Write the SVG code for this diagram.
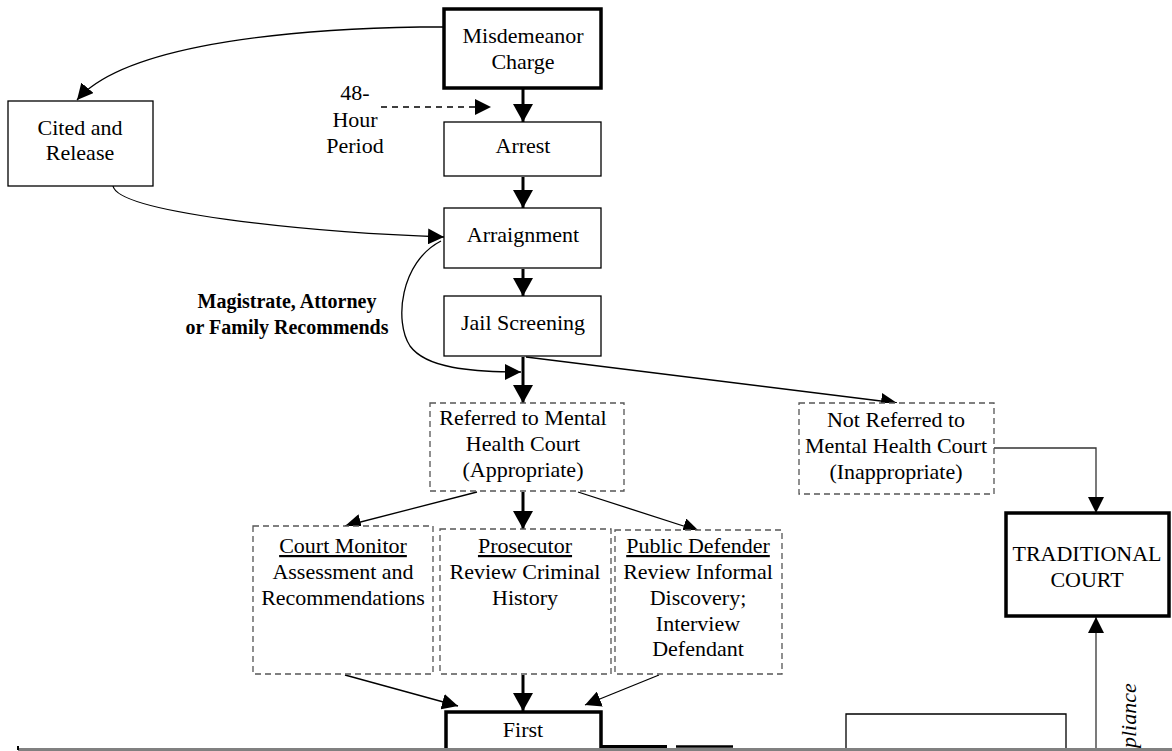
<svg xmlns="http://www.w3.org/2000/svg" width="1172" height="751" viewBox="0 0 1172 751">
<style>
  text { font-family: "Liberation Serif", "Times New Roman", serif; font-size: 22px; fill: #000; text-anchor: middle; }
  .bold { font-weight: bold; font-size: 20px; }
  .ital { font-style: italic; text-anchor: start; }
  .u { text-decoration: underline; }
  .thick { fill: #fff; stroke: #000; stroke-width: 3.5; }
  .thin { fill: #fff; stroke: #000; stroke-width: 1.3; }
  .dash { fill: #fff; stroke: #555; stroke-width: 1.3; stroke-dasharray: 6 4; }
  .c1 { fill: none; stroke: #000; stroke-width: 1.3; }
  .c3 { fill: none; stroke: #000; stroke-width: 3; }
  .cd { fill: none; stroke: #000; stroke-width: 1.3; stroke-dasharray: 6 5; }
  .cg { fill: none; stroke: #333; stroke-width: 1.3; }
</style>
<defs>
  <marker id="big" markerUnits="userSpaceOnUse" markerWidth="19" markerHeight="20" refX="18" refY="10" orient="auto">
    <path d="M0,0 L18,10 L0,20 z" fill="#000"/>
  </marker>
  <marker id="sm" markerUnits="userSpaceOnUse" markerWidth="17" markerHeight="16" refX="16" refY="8" orient="auto">
    <path d="M0,0 L16,8 L0,16 z" fill="#000"/>
  </marker>
</defs>
<rect x="0" y="0" width="1172" height="751" fill="#fff"/>

<g id="connectors">
  <path class="c1" d="M444,27 L420,27 C250,30 118,52 77,100" marker-end="url(#sm)"/>
  <path class="cd" d="M381,107 L491,107" marker-end="url(#sm)"/>
  <path class="c3" d="M523,89 L523,122" marker-end="url(#big)"/>
  <path class="c3" d="M523,177 L523,208" marker-end="url(#big)"/>
  <path class="c1" d="M113,186 C118,212 300,232 444,237" marker-end="url(#sm)"/>
  <path class="c3" d="M523,269 L523,296" marker-end="url(#big)"/>
  <path class="c1" d="M441,241 C400,262 394,322 410,346 C426,368 470,372 521,372" marker-end="url(#sm)"/>
  <path class="c3" d="M523,357 L523,403" marker-end="url(#big)"/>
  <path class="c1" d="M526,357 L897,403" marker-end="url(#sm)"/>
  <path class="cg" d="M994,448 L1096,448 L1096,513" marker-end="url(#sm)"/>
  <path class="c1" d="M477,492 L345,526" marker-end="url(#sm)"/>
  <path class="c3" d="M523,492 L523,529" marker-end="url(#big)"/>
  <path class="c1" d="M578,492 L699,531" marker-end="url(#sm)"/>
  <path class="c1" d="M345,675 L458,706" marker-end="url(#sm)"/>
  <path class="c3" d="M523,675 L523,711" marker-end="url(#big)"/>
  <path class="c1" d="M659,675 L585,705" marker-end="url(#sm)"/>
  <path class="cg" d="M1096,748 L1096,617" marker-end="url(#sm)"/>
</g>

<g id="misdemeanor">
  <rect class="thick" x="444" y="9" width="157" height="79"/>
  <text x="523" y="43">Misdemeanor</text>
  <text x="523" y="69">Charge</text>
</g>
<g id="cited">
  <rect class="thin" x="8" y="101" width="145" height="85"/>
  <text x="80" y="135">Cited and</text>
  <text x="80" y="160">Release</text>
</g>
<g id="period">
  <text x="355" y="100">48-</text>
  <text x="355" y="127">Hour</text>
  <text x="355" y="153">Period</text>
</g>
<g id="arrest">
  <rect class="thin" x="444" y="122" width="157" height="54"/>
  <text x="523" y="153">Arrest</text>
</g>
<g id="arraignment">
  <rect class="thin" x="444" y="208" width="157" height="60"/>
  <text x="523" y="242">Arraignment</text>
</g>
<g id="magistrate">
  <text class="bold" x="287" y="308">Magistrate, Attorney</text>
  <text class="bold" x="287" y="334">or Family Recommends</text>
</g>
<g id="jail">
  <rect class="thin" x="444" y="296" width="157" height="60"/>
  <text x="523" y="330">Jail Screening</text>
</g>
<g id="referred">
  <rect class="dash" x="430" y="403" width="194" height="88"/>
  <text x="523" y="425">Referred to Mental</text>
  <text x="523" y="451">Health Court</text>
  <text x="523" y="477">(Appropriate)</text>
</g>
<g id="notreferred">
  <rect class="dash" x="799" y="403" width="195" height="91"/>
  <text x="896" y="427">Not Referred to</text>
  <text x="896" y="453">Mental Health Court</text>
  <text x="896" y="479">(Inappropriate)</text>
</g>
<g id="traditional">
  <rect class="thick" x="1006" y="513" width="163" height="103"/>
  <text x="1087" y="561">TRADITIONAL</text>
  <text x="1087" y="587">COURT</text>
</g>
<g id="courtmonitor">
  <rect class="dash" x="253" y="526" width="180" height="148"/>
  <text class="u" x="343" y="553">Court Monitor</text>
  <text x="343" y="579">Assessment and</text>
  <text x="343" y="605">Recommendations</text>
</g>
<g id="prosecutor">
  <rect class="dash" x="440" y="529" width="171" height="145"/>
  <text class="u" x="525" y="553">Prosecutor</text>
  <text x="525" y="579">Review Criminal</text>
  <text x="525" y="605">History</text>
</g>
<g id="publicdefender">
  <rect class="dash" x="615" y="530" width="167" height="144"/>
  <text class="u" x="698" y="553">Public Defender</text>
  <text x="698" y="579">Review Informal</text>
  <text x="698" y="605">Discovery;</text>
  <text x="698" y="631">Interview</text>
  <text x="698" y="656">Defendant</text>
</g>
<g id="first">
  <path d="M446,751 L446,712 L601,712 L601,751" fill="#fff" stroke="#000" stroke-width="3.5"/>
  <text x="523" y="737">First</text>
  <path d="M601,746.5 L667,746.5" stroke="#000" stroke-width="3"/>
  <path d="M676,746.5 L733,746.5" stroke="#000" stroke-width="2.5"/>
</g>
<g id="unstable">
  <path d="M846,749 L846,714 L1066,714 L1066,749" fill="none" stroke="#000" stroke-width="1.3"/>
</g>
<g id="noncompliance">
  <text class="ital" transform="translate(1136,748) rotate(-90)">pliance</text>
</g>
<g id="pageedge">
  <rect x="18" y="748" width="1154" height="3" fill="#808080"/>
  <rect x="17" y="746" width="2" height="4" fill="#000"/>
</g>
</svg>
